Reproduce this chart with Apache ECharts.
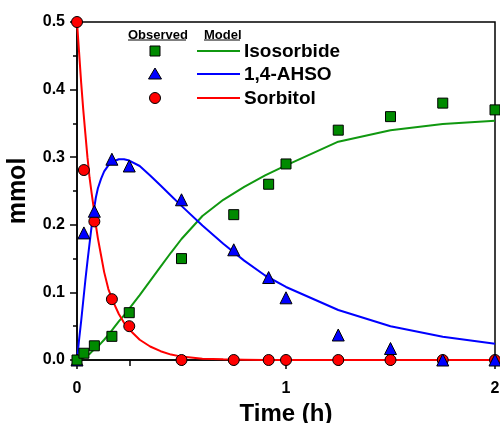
<!DOCTYPE html>
<html>
<head>
<meta charset="utf-8">
<script src="https://cdn.jsdelivr.net/npm/echarts@6/dist/echarts.min.js"></script>
<style>
html,body{margin:0;padding:0;background:#fff;}
#chart{width:500px;height:423px;}
</style>
</head>
<body>
<div id="chart"></div>
<script>
// Observed sampling times (h)
const tObs = [0, 0.033, 0.083, 0.167, 0.25, 0.5, 0.75, 0.917, 1, 1.25, 1.5, 1.75, 2];
const isosorbideObs = [0, 0.01, 0.021, 0.035, 0.07, 0.15, 0.215, 0.26, 0.29, 0.34, 0.36, 0.38, 0.37];
const ahsoObs = [0, 0.188, 0.22, 0.297, 0.287, 0.237, 0.163, 0.122, 0.092, 0.037, 0.017, 0, 0];
const sorbitolObs = [0.5, 0.281, 0.205, 0.09, 0.05, 0, 0, 0, 0, 0, 0, 0, 0];

// Model curves
const tModel = [0, 0.01, 0.02, 0.03, 0.04, 0.05, 0.06, 0.07, 0.08, 0.09, 0.1, 0.115, 0.13, 0.15, 0.175, 0.2, 0.225, 0.25, 0.3, 0.35, 0.4, 0.45, 0.5, 0.6, 0.7, 0.8, 0.9, 1, 1.25, 1.5, 1.75, 2];
const isosorbideModel = [0, 0.0005, 0.002, 0.003, 0.005, 0.007, 0.009, 0.012, 0.015, 0.017, 0.02, 0.025, 0.03, 0.037, 0.047, 0.057, 0.066, 0.076, 0.096, 0.117, 0.138, 0.159, 0.179, 0.213, 0.237, 0.256, 0.273, 0.288, 0.323, 0.34, 0.349, 0.354];
const ahsoModel = [0, 0.03, 0.058, 0.088, 0.118, 0.146, 0.172, 0.198, 0.22, 0.24, 0.254, 0.268, 0.279, 0.288, 0.294, 0.297, 0.297, 0.295, 0.287, 0.273, 0.258, 0.243, 0.228, 0.199, 0.172, 0.147, 0.125, 0.108, 0.074, 0.05, 0.0345, 0.024];
const sorbitolModel = [0.5, 0.455, 0.41, 0.37, 0.335, 0.3, 0.27, 0.247, 0.225, 0.2, 0.18, 0.155, 0.13, 0.105, 0.085, 0.068, 0.055, 0.045, 0.03, 0.02, 0.013, 0.008, 0.005, 0.002, 0.001, 0.0005, 0, 0, 0, 0, 0, 0];

const seriesNames = ['Isosorbide', '1,4-AHSO', 'Sorbitol'];
const xTicks = [0, 1, 2];

const GREEN_LINE = '#109810';
const GREEN_FILL = '#008a00';
const BLUE = '#0000ff';
const RED = '#ff0000';
const FONT = '"Liberation Sans", Arial, sans-serif';

const pair = (xs, ys) => xs.map((x, i) => [x, ys[i]]);

const chart = echarts.init(document.getElementById('chart'), null, {renderer: 'canvas'});

function lineSeries(name, ys, color) {
  return {
    name: name + ' model', type: 'line', data: pair(tModel, ys),
    showSymbol: false, symbol: 'none', smooth: false,
    lineStyle: {color: color, width: 2}, z: 2, clip: false, silent: true
  };
}
function scatterSeries(name, ys, symbol, size, fill, z) {
  return {
    name: name + ' observed', type: 'scatter', data: pair(tObs, ys),
    symbol: symbol, symbolSize: size,
    itemStyle: {color: fill, borderColor: '#000', borderWidth: 1, opacity: 1},
    z: z, clip: false, silent: true
  };
}

// Legend geometry
const LX_SYM = 155, LX_L0 = 197, LX_L1 = 240, LX_TXT = 244;
const LROWS = [51, 74, 98];

const graphics = [
  {type: 'text', left: 128, top: 29, style: {text: 'Observed', font: 'bold 13px ' + FONT, fill: '#000'}},
  {type: 'line', shape: {x1: 128, y1: 40, x2: 186, y2: 40}, style: {stroke: '#000', lineWidth: 1}},
  {type: 'text', left: 204, top: 29, style: {text: 'Model', font: 'bold 13px ' + FONT, fill: '#000'}},
  {type: 'line', shape: {x1: 204, y1: 40, x2: 240, y2: 40}, style: {stroke: '#000', lineWidth: 1}},
  {type: 'rect', shape: {x: LX_SYM - 5, y: LROWS[0] - 5, width: 10, height: 10}, style: {fill: GREEN_FILL, stroke: '#000', lineWidth: 1}},
  {type: 'polygon', shape: {points: [[LX_SYM, LROWS[1] - 6], [LX_SYM + 6.5, LROWS[1] + 5], [LX_SYM - 6.5, LROWS[1] + 5]]}, style: {fill: BLUE, stroke: '#000', lineWidth: 1}},
  {type: 'circle', shape: {cx: LX_SYM, cy: LROWS[2], r: 5.5}, style: {fill: RED, stroke: '#000', lineWidth: 1}},
  {type: 'line', shape: {x1: LX_L0, y1: LROWS[0], x2: LX_L1, y2: LROWS[0]}, style: {stroke: GREEN_LINE, lineWidth: 2}},
  {type: 'line', shape: {x1: LX_L0, y1: LROWS[1], x2: LX_L1, y2: LROWS[1]}, style: {stroke: BLUE, lineWidth: 2}},
  {type: 'line', shape: {x1: LX_L0, y1: LROWS[2], x2: LX_L1, y2: LROWS[2]}, style: {stroke: RED, lineWidth: 2}}
];
seriesNames.forEach((n, i) => {
  graphics.push({type: 'text', left: LX_TXT, top: LROWS[i] - 9, style: {text: n, font: 'bold 19px ' + FONT, fill: '#000'}});
});

chart.setOption({
  animation: false,
  backgroundColor: '#fff',
  grid: {left: 77, right: 5, top: 22, bottom: 63, containLabel: false, outerBoundsMode: 'none',
    show: true, borderColor: '#000', borderWidth: 1.5, backgroundColor: 'transparent'},
  xAxis: {
    type: 'value', min: 0, max: 2, interval: 1,
    name: 'Time (h)', nameLocation: 'middle', nameGap: 34,
    nameTextStyle: {fontFamily: FONT, fontWeight: 'bold', fontSize: 24, color: '#000'},
    axisLine: {show: true, lineStyle: {color: '#000', width: 1.5}},
    axisTick: {show: true, length: 9, inside: false, lineStyle: {color: '#000', width: 1.5}},
    minorTick: {show: true, splitNumber: 4, length: 6, lineStyle: {color: '#000', width: 1.5}},
    axisLabel: {margin: 21, fontFamily: FONT, fontWeight: 'bold', fontSize: 16, color: '#000',
      formatter: v => (xTicks.indexOf(v) >= 0 ? String(v) : '')},
    splitLine: {show: false}, minorSplitLine: {show: false}
  },
  yAxis: {
    type: 'value', min: 0, max: 0.5, interval: 0.1,
    name: 'mmol', nameLocation: 'middle', nameGap: 46,
    nameTextStyle: {fontFamily: FONT, fontWeight: 'bold', fontSize: 25, color: '#000'},
    axisLine: {show: true, lineStyle: {color: '#000', width: 1.5}},
    axisTick: {show: true, length: 7, inside: false, lineStyle: {color: '#000', width: 1.5}},
    minorTick: {show: true, splitNumber: 2, length: 4, lineStyle: {color: '#000', width: 1.5}},
    axisLabel: {margin: 12, fontFamily: FONT, fontWeight: 'bold', fontSize: 16, color: '#000',
      formatter: v => v.toFixed(1)},
    splitLine: {show: false}, minorSplitLine: {show: false}
  },
  graphic: graphics,
  series: [
    lineSeries(seriesNames[0], isosorbideModel, GREEN_LINE),
    lineSeries(seriesNames[1], ahsoModel, BLUE),
    lineSeries(seriesNames[2], sorbitolModel, RED),
    scatterSeries(seriesNames[2], sorbitolObs, 'circle', 11, RED, 5),
    scatterSeries(seriesNames[1], ahsoObs, 'triangle', 12, BLUE, 6),
    scatterSeries(seriesNames[0], isosorbideObs, 'rect', 10, GREEN_FILL, 7)
  ]
});
</script>
</body>
</html>
